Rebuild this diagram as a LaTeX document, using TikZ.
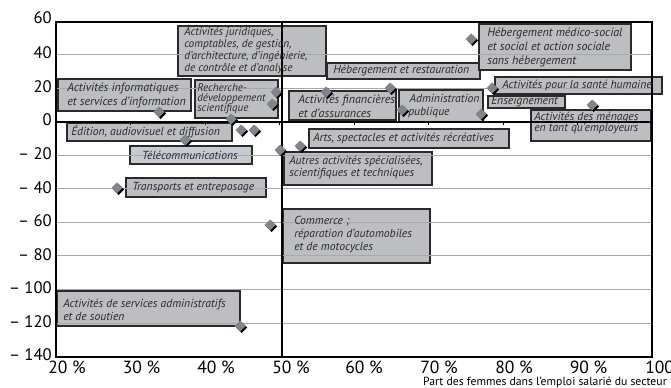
\documentclass[tikz,border=0pt]{standalone}
\usepackage{fontspec}
\setmainfont{PT Sans}
\definecolor{boxgray}{HTML}{BDBEC2}
\definecolor{boxlight}{HTML}{C6CAD2}
\definecolor{boxedge}{HTML}{2A2A2A}
\definecolor{gridgray}{HTML}{A6AAAE}
\definecolor{dgray}{HTML}{80858B}
\definecolor{txtcol}{HTML}{2A2A2A}
\tikzset{
  lbox/.style={fill=boxgray, draw=boxedge, line width=0.9pt},
  ltxt/.style={inner sep=0pt, anchor=west, align=left, text=txtcol,
    font=\itshape\fontsize{8.75}{9.75}\selectfont},
  gridln/.style={draw=gridgray, line width=0.75pt},
  axisln/.style={draw=black, line width=0.9pt},
  ylab/.style={anchor=east, inner sep=0pt, font=\fontsize{12.5}{14}\selectfont},
  xlab/.style={anchor=center, inner sep=0pt, font=\fontsize{13.2}{15}\selectfont},
}
\begin{document}
\begin{tikzpicture}[x=0.75pt, y=-0.75pt]
\useasboundingbox (0,0) rectangle (671,388);
% label boxes
\draw[lbox] (178,26) rectangle (326,76);
\draw[lbox] (327,63) rectangle (480,79);
\draw[lbox] (58,79) rectangle (191,111);
\draw[lbox] (195,80) rectangle (278,118);
\draw[lbox] (289,91) rectangle (396,120);
\draw[lbox] (399,90) rectangle (483,122);
\draw[lbox] (479,24) rectangle (631,70);
\draw[lbox] (495,77) rectangle (662,94);
\draw[lbox] (488,96) rectangle (565,108);
\draw[lbox] (531,110) rectangle (651,141);
\draw[lbox] (67,123) rectangle (232,141);
\draw[lbox, fill=boxlight] (130,146) rectangle (252,164);
\draw[lbox] (126,178) rectangle (266,197);
\draw[lbox] (309,129) rectangle (509,148);
\draw[lbox] (284,152) rectangle (432,185);
\draw[lbox] (283,209) rectangle (430,263);
\draw[lbox] (57,291) rectangle (240,326);
% grid lines
\foreach \v in {40,20,-20,-40,-60,-80,-100,-120} {
  \draw[gridln] (56,{122-\v*1.675}) -- (652,{122-\v*1.675});
}
% axes and frame
\draw[axisln] (56,22) -- (652,22) -- (652,357) -- (56,357) -- cycle;
\draw[axisln] (282,22) -- (282,357);
\draw[axisln] (56,122) -- (652,122);
\foreach \k in {1,...,7} { \draw[axisln, line width=0.6pt] ({56+74.5*\k},122) -- ({56+74.5*\k},125.5); }
% y labels
\node[ylab] (y60) at (52,18) {60};
\node[ylab] (y40) at (52,53) {40};
\node[ylab] (y20) at (52,87) {20};
\node[ylab] (y0) at (52,120) {0};
\node[ylab] (ym20) at (52,154) {– 20};
\node[ylab] (ym40) at (52,188) {– 40};
\node[ylab] (ym60) at (52,221) {– 60};
\node[ylab] (ym80) at (52,255) {– 80};
\node[ylab] (ym100) at (52,288) {– 100};
\node[ylab] (ym120) at (52,322) {– 120};
\node[ylab] (ym140) at (52,355) {– 140};
% x labels
\node[xlab] (x20) at (67,367.5) {20 \%};
\node[xlab] (x30) at (141.5,367.5) {30 \%};
\node[xlab] (x40) at (216,367.5) {40 \%};
\node[xlab] (x50) at (291,367.5) {50 \%};
\node[xlab] (x60) at (364,367.5) {60 \%};
\node[xlab] (x70) at (439,367.5) {70 \%};
\node[xlab] (x80) at (514,367.5) {80 \%};
\node[xlab] (x90) at (588.5,367.5) {90 \%};
\node[xlab, anchor=west] (x100) at (645,367.5) {100 \%};
\node[anchor=east, inner sep=0pt, font=\fontsize{8.8}{10}\selectfont] (xtitle) at (667,382.5) {Part des femmes dans l’emploi salarié du secteur};
% box texts
\node[ltxt, font=\itshape\fontsize{8.5}{9}\selectfont] (tjur) at (184,51) {Activités juridiques,\\comptables, de gestion,\\d’architecture, d’ingénierie,\\de contrôle et d’analyse};
\node[ltxt] (theb) at (333,71) {Hébergement et restauration};
\node[ltxt, font=\itshape\fontsize{9}{10.5}\selectfont] (tinfo) at (67,95.5) {Activités informatiques\\et services d'information};
\node[ltxt, font=\itshape\fontsize{8.3}{7.6}\selectfont] (trd) at (197,99) {Recherche-\\développement\\scientifique};
\node[ltxt, font=\itshape\fontsize{9}{10.5}\selectfont] (tfin) at (298,106) {Activités financières\\et d'assurances};
\node[ltxt, font=\itshape\fontsize{8.75}{9.75}\selectfont] (tadm) at (408,106) {\hspace*{1pt}Administration\\publique};
\node[ltxt, font=\itshape\fontsize{9}{10.5}\selectfont] (tmed) at (487,47) {Hébergement médico-social\\et social et action sociale\\sans hébergement};
\node[ltxt] (tsan) at (502,85.5) {Activités pour la santé humaine};
\node[ltxt] (tens) at (491,102) {Enseignement};
\node[ltxt, font=\itshape\fontsize{8.75}{8.6}\selectfont] (tmen) at (534,123) {Activités des ménages\\en tant qu'employeurs};
\node[ltxt] (tedi) at (71,132) {Édition, audiovisuel et diffusion};
\node[ltxt, anchor=center] (ttel) at (190,155) {Télécommunications};
\node[ltxt] (ttra) at (132,187.5) {Transports et entreposage};
\node[ltxt] (tart) at (313,138.5) {Arts, spectacles et activités récréatives};
\node[ltxt, font=\itshape\fontsize{8.75}{8.6}\selectfont] (taut) at (289,167.5) {Autres activités spécialisées,\\scientifiques et techniques};
\node[ltxt] (tcom) at (294,235) {Commerce ;\\réparation d'automobiles\\et de motocycles};
\node[ltxt] (tser) at (63,309.5) {Activités de services administratifs\\et de soutien};
% data points
\foreach \x/\y in {159/112,185/140,117/188,276/92,272/104,231/119,241/130,254/130,
  280/150,300/146,326/92,390/88,402/110,471/39,492/88,481/114,592/105,270/225,240/326} {
  \fill[black] (\x+1.6,\y-3.9) -- (\x+7.1,\y+1.6) -- (\x+1.6,\y+7.1) -- (\x-3.9,\y+1.6) -- cycle;
  \fill[dgray] (\x,\y-5.5) -- (\x+5.5,\y) -- (\x,\y+5.5) -- (\x-5.5,\y) -- cycle;
}
\end{tikzpicture}
\end{document}
